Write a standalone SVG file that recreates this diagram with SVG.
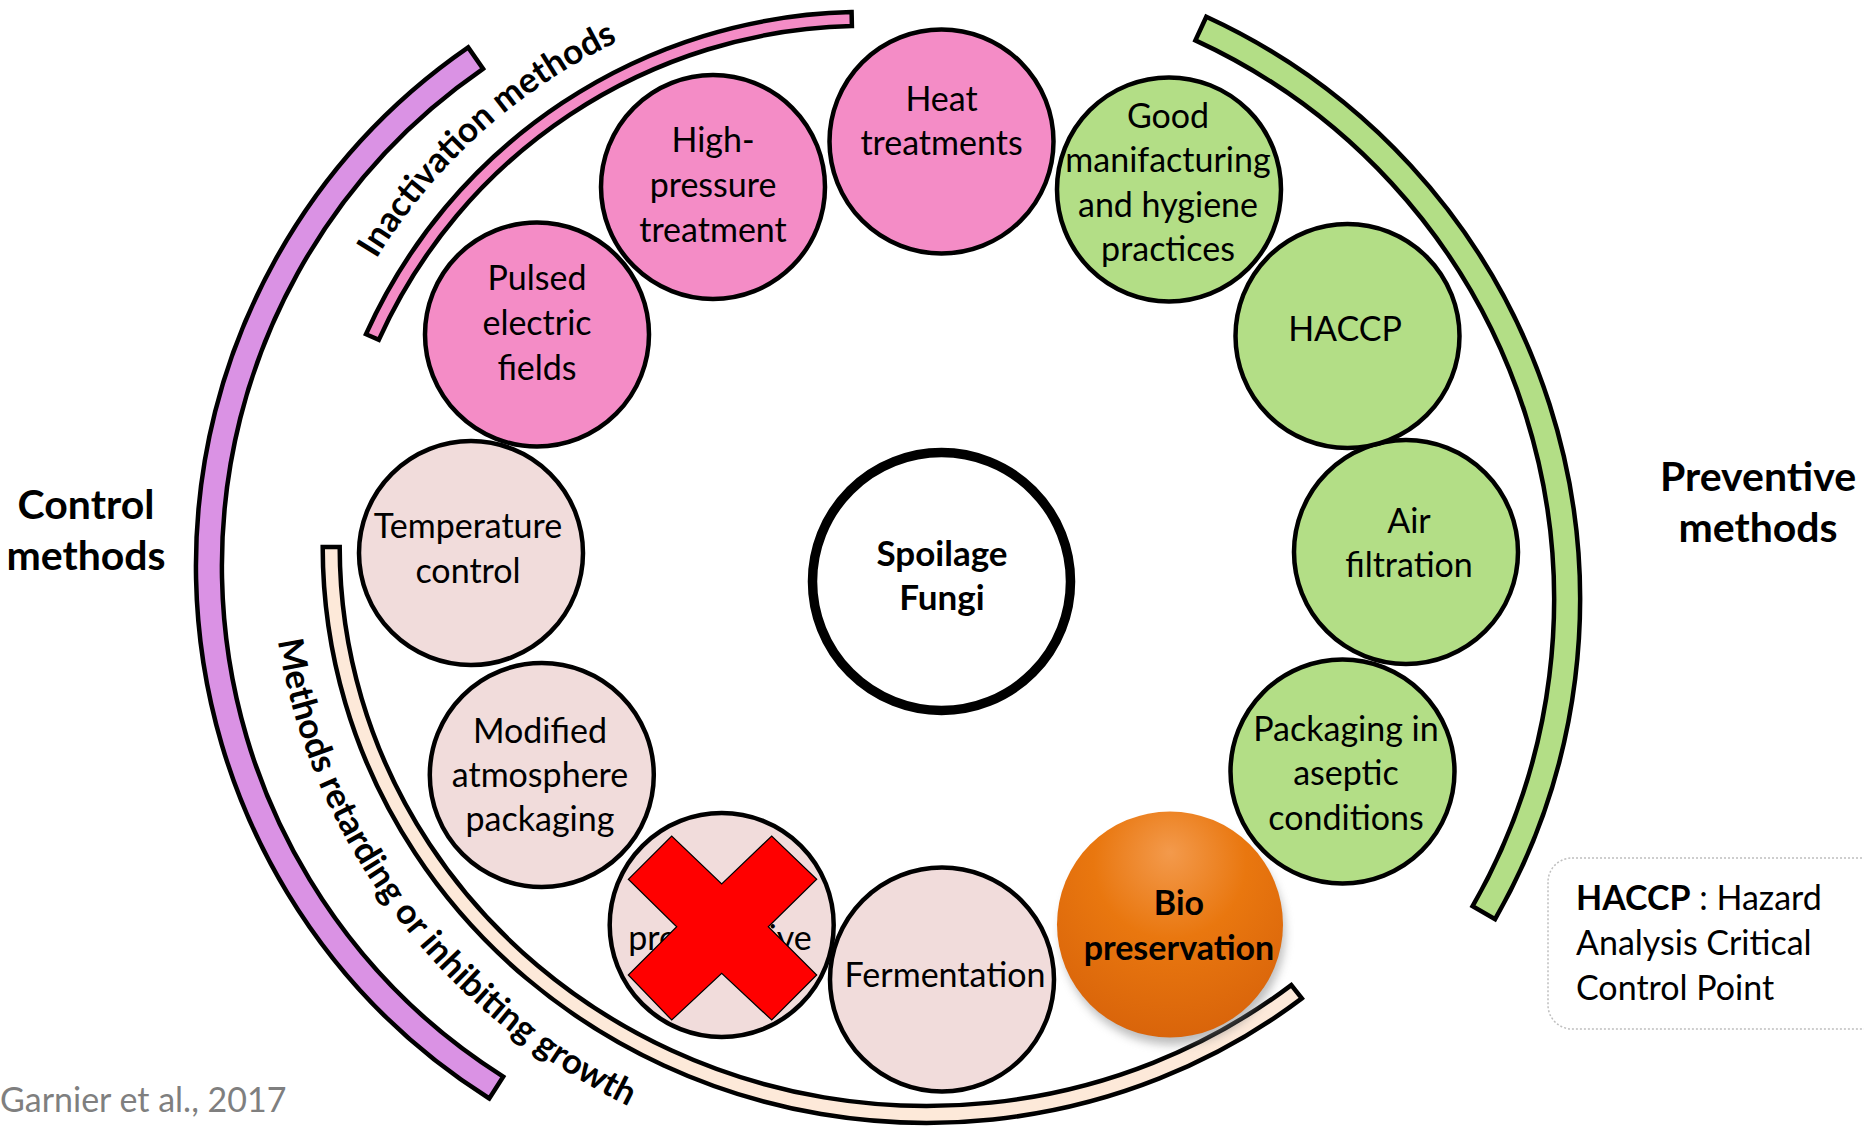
<svg xmlns="http://www.w3.org/2000/svg" width="1864" height="1127" viewBox="0 0 1864 1127">
<defs>
<style>
.c{stroke:#000;stroke-width:4.5}
.band{stroke:#000;stroke-width:4.5;stroke-linejoin:miter}
.pink{fill:#F48CC6}
.green{fill:#B3DE86}
.rose{fill:#F1DCDB}
.purple{fill:#DA92E4}
.peach{fill:#FDE9D9}
.t{font-family:Lato,"Liberation Sans",sans-serif;font-size:34px;fill:#000;text-anchor:middle}
.b{font-weight:bold}
.s{text-anchor:start}
</style>
<radialGradient id="bioGrad" cx="50%" cy="28%" r="75%" fx="50%" fy="18%">
<stop offset="0" stop-color="#F39A4C"/>
<stop offset="0.45" stop-color="#E9770F"/>
<stop offset="1" stop-color="#D8630A"/>
</radialGradient>
<filter id="blur" x="-20%" y="-20%" width="140%" height="140%">
<feGaussianBlur stdDeviation="5"/>
</filter>
<path id="pInact" d="M 326.5,362.4 A 572 572 0 0 1 725.6,3.0" fill="none"/>
<path id="pRetard" d="M 271.6,514.1 A 656 628 0 0 0 768.0,1156.3" fill="none"/>
</defs>
<rect width="1864" height="1127" fill="#FFFFFF"/>

<g id="bands">
<path id="band-control" class="band purple" d="M 468.2,47.4 A 630 630 0 0 0 489.3,1098.5 L 503.2,1076.6 A 604 604 0 0 1 483.0,68.8 Z"/>
<path id="band-preventive" class="band green" d="M 1206.3,16.7 A 642 642 0 0 1 1495.1,919.1 L 1472.6,906.2 A 616 616 0 0 0 1195.4,40.4 Z"/>
<path id="band-inactivation" class="band pink" d="M 366.0,334.2 A 546 546 0 0 1 851.6,12.1 L 851.9,26.1 A 532 532 0 0 0 378.8,339.9 Z"/>
<path id="band-retarding" class="band peach" d="M 322.7,547 A 604 576 0 0 0 1301.8,998.4 L 1291.3,985.1 A 587 559 0 0 1 339.7,547 Z"/>
</g>

<g id="connectors"></g>

<g id="label-inactivation">
<text class="t b" style="font-size:35px"><textPath href="#pInact" startOffset="50%">Inactivation methods</textPath></text>
</g>
<g id="label-retarding">
<text class="t b" style="font-size:35px"><textPath href="#pRetard" startOffset="48.8%">Methods retarding or inhibiting growth</textPath></text>
</g>

<g id="node-heat">
<circle class="c pink" cx="941.5" cy="141.5" r="112"/>
<text class="t" x="941.5" y="111">Heat</text>
<text class="t" x="941.5" y="155">treatments</text>
</g>
<g id="node-highpressure">
<circle class="c pink" cx="713" cy="187" r="112"/>
<text class="t" x="713" y="152">High-</text>
<text class="t" x="713" y="197">pressure</text>
<text class="t" x="713" y="242">treatment</text>
</g>
<g id="node-pulsed">
<circle class="c pink" cx="537" cy="334.5" r="112"/>
<text class="t" x="537" y="290">Pulsed</text>
<text class="t" x="537" y="335">electric</text>
<text class="t" x="537" y="380">fields</text>
</g>
<g id="node-temperature">
<circle class="c rose" cx="471" cy="553" r="112"/>
<text class="t" x="468" y="538">Temperature</text>
<text class="t" x="468" y="583">control</text>
</g>
<g id="node-map">
<circle class="c rose" cx="541.8" cy="775" r="112"/>
<text class="t" x="540" y="743">Modified</text>
<text class="t" x="540" y="787">atmosphere</text>
<text class="t" x="540" y="831">packaging</text>
</g>
<g id="node-preservative">
<circle class="c rose" cx="721.7" cy="925" r="112"/>
<text class="t" x="720" y="950">preservative</text>
<polygon points="628.3,879.3 671.7,836 721.7,884 771.7,836 816.7,879.3 768.3,926.7 816.7,975 771.7,1020 721.7,973.3 671.7,1020 628.3,975 676.7,926.7" fill="#FF0000" stroke="#000" stroke-width="1.2"/>
</g>
<g id="node-fermentation">
<circle class="c rose" cx="942" cy="979.5" r="112"/>
<text class="t" x="945" y="987">Fermentation</text>
</g>
<g id="node-bio">
<circle cx="1173" cy="933" r="112" fill="#7a7a7a" opacity="0.5" filter="url(#blur)"/>
<circle cx="1170" cy="924.5" r="113" fill="url(#bioGrad)"/>
<text class="t b" x="1179" y="915">Bio</text>
<text class="t b" x="1179" y="960">preservation</text>
</g>
<g id="node-aseptic">
<circle class="c green" cx="1342.5" cy="771.5" r="112"/>
<text class="t" x="1346" y="741">Packaging in</text>
<text class="t" x="1346" y="785">aseptic</text>
<text class="t" x="1346" y="830">conditions</text>
</g>
<g id="node-air">
<circle class="c green" cx="1406" cy="552" r="112"/>
<text class="t" x="1409" y="533">Air</text>
<text class="t" x="1409" y="577">filtration</text>
</g>
<g id="node-haccp">
<circle class="c green" cx="1347.5" cy="336" r="112"/>
<text class="t" x="1345" y="341">HACCP</text>
</g>
<g id="node-gmp">
<circle class="c green" cx="1169" cy="189.4" r="112"/>
<text class="t" x="1168" y="128">Good</text>
<text class="t" x="1168" y="172">manifacturing</text>
<text class="t" x="1168" y="217">and hygiene</text>
<text class="t" x="1168" y="261">practices</text>
</g>
<g id="node-fungi">
<circle cx="941.5" cy="581.5" r="129" fill="#FFFFFF" stroke="#000" stroke-width="9.5"/>
<text class="t b" x="942" y="566" style="font-size:35px">Spoilage</text>
<text class="t b" x="942" y="610" style="font-size:35px">Fungi</text>
</g>

<g id="label-control">
<text class="t b" x="86" y="519" style="font-size:41px">Control</text>
<text class="t b" x="86" y="570" style="font-size:41px">methods</text>
</g>
<g id="label-preventive">
<text class="t b" x="1758" y="491" style="font-size:41px">Preventive</text>
<text class="t b" x="1758" y="542" style="font-size:41px">methods</text>
</g>

<g id="legend-haccp">
<rect x="1548" y="858" width="340" height="171" rx="24" fill="#FFFFFF" stroke="#BFBFBF" stroke-width="1.5" stroke-dasharray="2 2"/>
<text class="t s" x="1576" y="910"><tspan font-weight="bold">HACCP</tspan> : Hazard</text>
<text class="t s" x="1576" y="955">Analysis Critical</text>
<text class="t s" x="1576" y="1000">Control Point</text>
</g>

<g id="citation">
<text class="t s" x="0" y="1112" style="fill:#7F7F7F">Garnier et al., 2017</text>
</g>
</svg>
